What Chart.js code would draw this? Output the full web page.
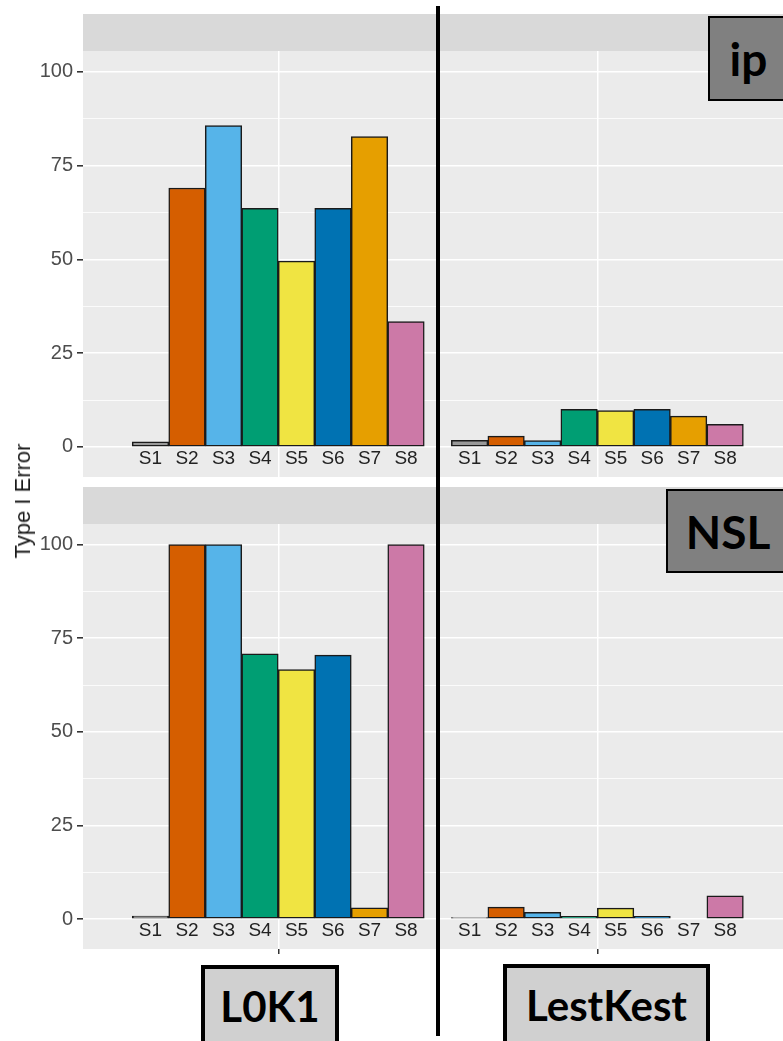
<!DOCTYPE html>
<html>
<head>
<meta charset="utf-8">
<script src="https://cdn.jsdelivr.net/npm/chart.js@4.4.0/dist/chart.umd.min.js"></script>
<style>
  body { margin: 0; background: #fff; }
  #wrap { position: relative; width: 783px; height: 1041px; overflow: hidden; font-family: "Liberation Sans", Arial, sans-serif; }
  canvas { position: absolute; }
  .strip { position: absolute; background: #D9D9D9; }
  .tag { position: absolute; box-sizing: border-box; border: 2px solid #000; background: #808080;
         font-family: Lato, "Open Sans", sans-serif; font-weight: bold; font-size: 46px; color: #000;
         display: flex; align-items: center; justify-content: center; }
  .col { background: #D0D0D0; border-width: 4px; font-size: 42px; }
  #ytitle { position: absolute; left: 23px; top: 501px; transform: translate(-50%, -50%) rotate(-90deg);
            font-size: 22px; color: #1a1a1a; white-space: nowrap; }
  #vline { position: absolute; left: 436px; top: 6px; width: 4px; height: 1030px; background: #000; }
</style>
</head>
<body>
<div id="wrap">
  <div class="strip" style="left:83px; top:14px; width:354px; height:37px;"></div>
  <div class="strip" style="left:440px; top:14px; width:343px; height:37px;"></div>
  <div class="strip" style="left:83px; top:487px; width:354px; height:37px;"></div>
  <div class="strip" style="left:440px; top:487px; width:343px; height:37px;"></div>

  <canvas id="c1" width="437" height="426" style="left:0; top:51px;"></canvas>
  <canvas id="c2" width="343" height="426" style="left:440px; top:51px;"></canvas>
  <canvas id="c3" width="437" height="431" style="left:0; top:524px;"></canvas>
  <canvas id="c4" width="343" height="431" style="left:440px; top:524px;"></canvas>

  <div id="ytitle">Type I Error</div>
  <div id="vline"></div>

  <div class="tag" style="left:708px; top:16px; width:81px; height:85px;">ip</div>
  <div class="tag" style="left:666px; top:489px; width:124px; height:84px;">NSL</div>
  <div class="tag col" style="left:201px; top:965px; width:138px; height:82px;">L0K1</div>
  <div class="tag col" style="left:503px; top:964px; width:207px; height:82px;">LestKest</div>
</div>

<script>
const series = ['S1', 'S2', 'S3', 'S4', 'S5', 'S6', 'S7', 'S8'];
const colores = ['#999999', '#D55E00', '#56B4E9', '#009E73', '#F0E442', '#0072B2', '#E69F00', '#CC79A7'];

// Type I error (%)
const l0k1Ip  = [1.4, 69.0, 85.6, 63.6, 49.5, 63.6, 82.7, 33.4];
const lestIp  = [1.8, 2.9, 1.7, 10.0, 9.7, 10.0, 8.2, 6.0];
const l0k1Nsl = [0.8, 100, 100, 70.8, 66.6, 70.5, 3.0, 100];
const lestNsl = [0.4, 3.2, 1.8, 0.7, 2.9, 0.7, 0, 6.2];

const yTicks = [0, 25, 50, 75, 100];
const yGrid = [0, 12.5, 25, 37.5, 50, 62.5, 75, 87.5, 100];

const painel = {
    id: 'painel',
    beforeDraw(chart) {
        const a = chart.chartArea;
        chart.ctx.save();
        chart.ctx.fillStyle = '#EBEBEB';
        chart.ctx.fillRect(a.left, a.top, a.right - a.left, a.bottom - a.top);
        chart.ctx.restore();
    },
    afterDatasetsDraw(chart) {
        const ctx = chart.ctx;
        const x = chart.scales.x, y = chart.scales.y;
        ctx.save();
        ctx.font = '19px "Liberation Sans", Arial, sans-serif';
        ctx.fillStyle = '#222222';
        ctx.textAlign = 'center';
        ctx.textBaseline = 'middle';
        series.forEach((s, i) => ctx.fillText(s, x.getPixelForValue(i + 1), y.getPixelForValue(-3.2)));
        ctx.restore();
    }
};

function desenhar(id, valores, esquerda, baixo) {
    new Chart(document.getElementById(id), {
        type: 'bar',
        data: {
            datasets: [{
                data: valores.map((v, i) => ({ x: i + 1, y: v })),
                backgroundColor: colores,
                borderColor: '#1a1a1a',
                borderWidth: 1.5,
                borderSkipped: false,
                categoryPercentage: 1,
                barPercentage: 1
            }]
        },
        options: {
            responsive: false,
            devicePixelRatio: 1,
            animation: false,
            layout: { padding: 0 },
            plugins: { legend: { display: false }, tooltip: { enabled: false } },
            scales: {
                x: {
                    type: 'linear',
                    offset: false,
                    min: esquerda ? -0.849 : 0.189,
                    max: esquerda ? 8.849 : 9.586,
                    afterBuildTicks: s => { s.ticks = [{ value: 4.5 }]; },
                    afterFit: s => { s.height = baixo ? 6 : 0; s.paddingLeft = 0; s.paddingRight = 0; },
                    ticks: { display: false },
                    border: { display: false },
                    grid: { offset: false, color: '#FFFFFF', lineWidth: 1.5, drawTicks: baixo, tickLength: 5, tickColor: '#333333' }
                },
                y: {
                    min: -8,
                    max: 105.5,
                    afterBuildTicks: s => { s.ticks = yGrid.map(v => ({ value: v })); },
                    afterFit: s => { s.width = esquerda ? 83 : 0; s.paddingTop = 0; s.paddingBottom = 0; },
                    ticks: {
                        display: esquerda,
                        padding: 4,
                        color: '#4D4D4D',
                        font: { family: '"Liberation Sans", Arial, sans-serif', size: 20 },
                        callback: v => yTicks.includes(v) ? v : ''
                    },
                    border: { display: false },
                    grid: {
                        color: '#FFFFFF',
                        lineWidth: c => yTicks.includes(c.tick.value) ? 1.6 : 0.8,
                        drawTicks: esquerda,
                        tickLength: 6,
                        tickColor: c => yTicks.includes(c.tick.value) ? '#333333' : 'rgba(0,0,0,0)'
                    }
                }
            }
        },
        plugins: [painel]
    });
}

desenhar('c1', l0k1Ip, true, false);
desenhar('c2', lestIp, false, false);
desenhar('c3', l0k1Nsl, true, true);
desenhar('c4', lestNsl, false, true);
</script>
</body>
</html>
